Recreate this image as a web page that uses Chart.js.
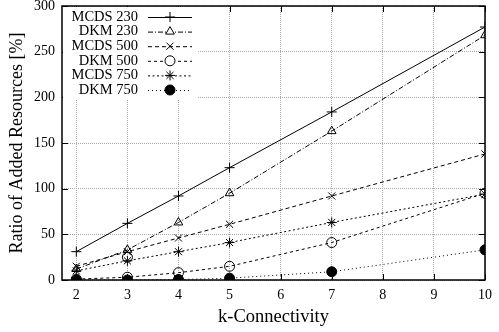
<!DOCTYPE html>
<html><head><meta charset="utf-8">
<script src="https://cdn.jsdelivr.net/npm/chart.js@4/dist/chart.umd.min.js"></script>
<style>html,body{margin:0;padding:0;background:#fff}#wrap{width:499px;height:332px}</style>
</head><body><div id="wrap"><canvas id="c" width="499" height="332"></canvas></div>
<script>
const kValues = [2, 3, 4, 5, 7, 10];
const xTicks = [2, 3, 4, 5, 6, 7, 8, 9, 10];
const yTicks = [0, 50, 100, 150, 200, 250, 300];
const seriesNames = ["MCDS 230", "DKM 230", "MCDS 500", "DKM 500", "MCDS 750", "DKM 750"];
const mcds230 = [31, 62, 92, 123, 184, 277];
const dkm230 = [12, 33, 63, 95, 163, 268];
const mcds500 = [15, 31, 46, 61, 92, 138];
const dkm500 = [1, 3, 8, 15, 41, 95];
const mcds750 = [10, 21, 31, 41, 63, 94];
const dkm750 = [0, 0, 0.5, 2, 9, 33];
const extraK = [3];
const extraVal = [25];

const serif = "'Liberation Serif','DejaVu Serif',serif";
const styles = [
  {dash: [], pt: 'cross', fill: false},
  {dash: [5, 2, 1, 2], pt: 'triangle', fill: false},
  {dash: [4, 3], pt: 'crossRot', fill: false},
  {dash: [3, 3], pt: 'circle', fill: false},
  {dash: [2, 2.5], pt: 'star', fill: false},
  {dash: [1, 3], pt: 'circle', fill: true}
];
const allSeries = [mcds230, dkm230, mcds500, dkm500, mcds750, dkm750];
const datasets = allSeries.map((vals, i) => ({
  label: seriesNames[i],
  data: kValues.map((k, j) => ({x: k, y: vals[j]})),
  borderColor: '#000',
  borderWidth: 1,
  borderDash: styles[i].dash,
  pointStyle: styles[i].pt,
  pointRadius: 5,
  pointBorderWidth: 1,
  pointBorderColor: '#000',
  pointBackgroundColor: styles[i].fill ? '#000' : 'rgba(0,0,0,0)',
  tension: 0,
  fill: false
}));
datasets.push({
  label: 'extra',
  data: extraK.map((k, j) => ({x: k, y: extraVal[j]})),
  showLine: false,
  borderColor: '#000',
  pointStyle: 'circle', pointRadius: 5, pointBorderWidth: 1,
  pointBorderColor: '#000', pointBackgroundColor: 'rgba(0,0,0,0)'
});

const framePlugin = {
  id: 'frame',
  afterDraw(chart) {
    const {ctx, chartArea: a, scales} = chart;
    ctx.save();
    ctx.strokeStyle = '#000';
    ctx.lineWidth = 1;
    ctx.setLineDash([]);
    ctx.beginPath();
    xTicks.forEach(v => {
      const px = Math.round(scales.x.getPixelForValue(v)) + 0.5;
      ctx.moveTo(px, a.bottom); ctx.lineTo(px, a.bottom - 6);
      ctx.moveTo(px, a.top); ctx.lineTo(px, a.top + 6);
    });
    yTicks.forEach(v => {
      const py = Math.round(scales.y.getPixelForValue(v)) + 0.5;
      ctx.moveTo(a.left, py); ctx.lineTo(a.left + 6, py);
      ctx.moveTo(a.right, py); ctx.lineTo(a.right - 6, py);
    });
    ctx.stroke();
    // legend
    ctx.fillStyle = '#fff';
    ctx.fillRect(a.left + 1, a.top + 1, 135, 92);
    ctx.lineWidth = 1.5;
    ctx.strokeRect(a.left, a.top, a.right - a.left, a.bottom - a.top);
    ctx.font = "14.5px " + serif;
    ctx.textAlign = 'right';
    ctx.textBaseline = 'middle';
    for (let i = 0; i < seriesNames.length; i++) {
      const y = 17 + i * 14.6;
      ctx.fillStyle = '#000';
      ctx.fillText(seriesNames[i], 138, y);
      ctx.strokeStyle = '#000';
      ctx.lineWidth = 1;
      ctx.setLineDash(styles[i].dash);
      ctx.beginPath();
      ctx.moveTo(148, y + 0.5); ctx.lineTo(192, y + 0.5);
      ctx.stroke();
      ctx.setLineDash([]);
      ctx.fillStyle = styles[i].fill ? '#000' : '#fff';
      Chart.helpers.drawPoint(ctx, {
        pointStyle: styles[i].pt, radius: 5, borderWidth: 1, rotation: 0
      }, 170, y);
    }
    ctx.restore();
  }
};

new Chart(document.getElementById('c'), {
  type: 'line',
  data: {datasets},
  options: {
    responsive: false,
    animation: false,
    layout: {padding: {top: 6, right: 14, left: 0, bottom: 0}},
    plugins: {legend: {display: false}, tooltip: {enabled: false}},
    scales: {
      x: {
        type: 'linear', min: 1.72, max: 10,
        afterBuildTicks: s => { s.ticks = xTicks.map(v => ({value: v})); },
        afterFit: s => { s.height = 52; s.paddingLeft = 0; s.paddingRight = 0; },
        ticks: {font: {family: serif, size: 14}, color: '#000', padding: 7, maxRotation: 0, autoSkip: false},
        grid: {color: '#a8a8a8', drawTicks: false, lineWidth: 1},
        border: {display: false, dash: [1, 1]},
        title: {display: true, text: 'k-Connectivity', font: {family: serif, size: 18.5}, color: '#000', padding: {top: 0, bottom: 4}}
      },
      y: {
        min: 0, max: 300,
        afterBuildTicks: s => { s.ticks = yTicks.map(v => ({value: v})); },
        afterFit: s => { s.width = 62; s.paddingTop = 0; s.paddingBottom = 0; },
        ticks: {font: {family: serif, size: 14}, color: '#000', padding: 7},
        grid: {color: '#a8a8a8', drawTicks: false, lineWidth: 1},
        border: {display: false, dash: [1, 1]},
        title: {display: true, text: 'Ratio of Added Resources [%]', font: {family: serif, size: 18}, color: '#000', padding: {top: 6, bottom: 0}}
      }
    }
  },
  plugins: [framePlugin]
});
</script></body></html>
